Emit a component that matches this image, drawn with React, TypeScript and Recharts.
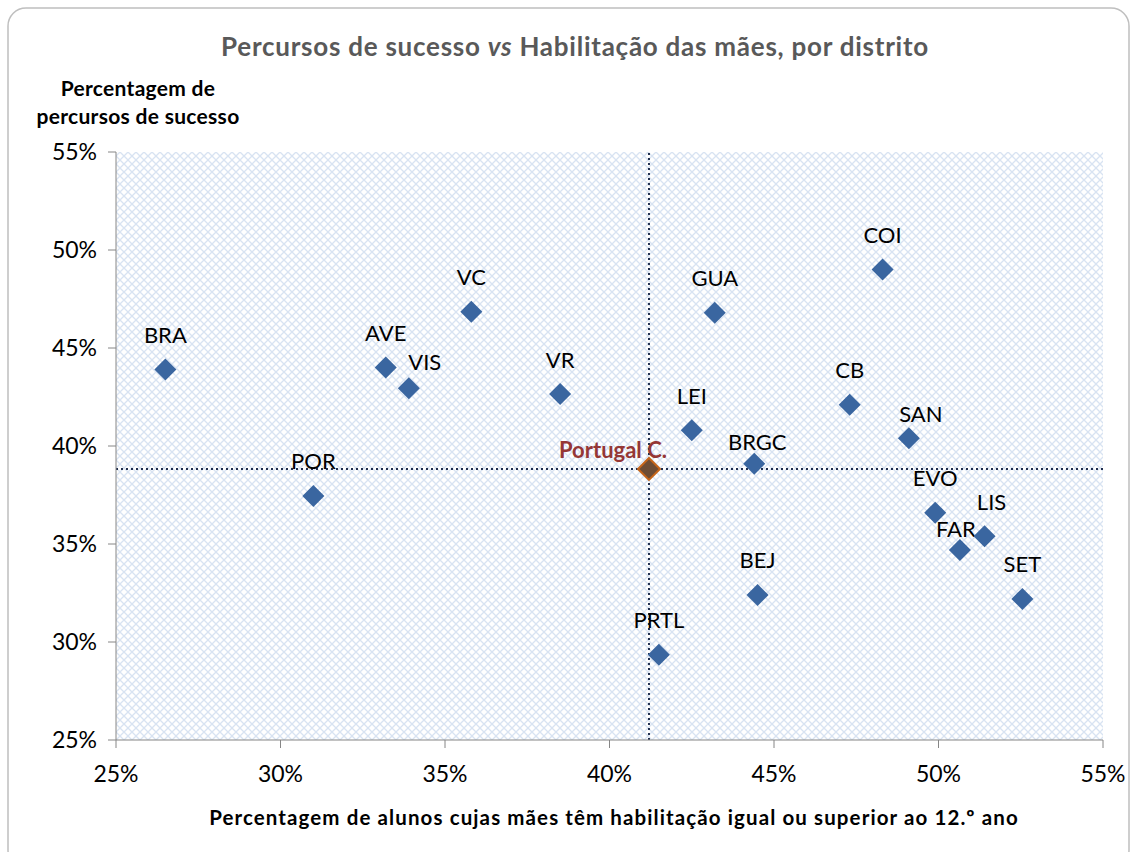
import React from "react";
import {
  ScatterChart,
  Scatter,
  XAxis,
  YAxis,
  CartesianGrid,
  ReferenceLine,
} from "recharts";

const districts = ["BRA", "POR", "AVE", "VIS", "VC", "VR", "PRTL", "LEI", "GUA", "BRGC", "BEJ", "CB", "COI", "SAN", "EVO", "FAR", "LIS", "SET"];
const mothersEducation = [26.5, 31.0, 33.2, 33.9, 35.8, 38.5, 41.5, 42.5, 43.2, 44.4, 44.5, 47.3, 48.3, 49.1, 49.9, 50.65, 51.4, 52.55];
const successRate = [43.9, 37.45, 44.0, 42.95, 46.85, 42.65, 29.35, 40.8, 46.8, 39.1, 32.4, 42.1, 49.0, 40.4, 36.6, 34.7, 35.4, 32.2];

const nationalLabel = ["Portugal C."];
const nationalX = [41.2];
const nationalY = [38.83];

const axisTicks = [25, 30, 35, 40, 45, 50, 55];

// label placement (offset from marker centre), default is above
const labelPlacement: Record<string, [number, number]> = {
  VIS: [16, -27],
  BRGC: [3, -22],
  SAN: [12, -25],
  LIS: [7, -35],
  FAR: [-4, -21],
  "Portugal C.": [-36, -19],
};

const districtData = districts.map((name, i) => ({ name, x: mothersEducation[i], y: successRate[i] }));
const nationalData = nationalLabel.map((name, i) => ({ name, x: nationalX[i], y: nationalY[i] }));

const FONT = "Lato, 'Open Sans', sans-serif";

const DiamondShape = (props: any) => {
  const { cx, cy, payload, fill, stroke, labelColor, bold } = props;
  if (cx == null || cy == null) return null;
  const r = 11;
  const off = labelPlacement[payload.name] || [0, -35];
  return (
    <g>
      <path
        d={`M${cx},${cy - r} L${cx + r},${cy} L${cx},${cy + r} L${cx - r},${cy} Z`}
        fill={fill}
        stroke={stroke}
        strokeWidth={stroke ? 2 : 0}
      />
      <text
        x={cx + off[0]}
        y={cy + off[1]}
        textAnchor="middle"
        dominantBaseline="central"
        fontFamily={FONT}
        fontSize={22}
        fontWeight={bold ? 700 : 400}
        fill={labelColor}
      >
        {payload.name}
      </text>
    </g>
  );
};

export default function App() {
  return (
    <div style={{ position: "absolute", left: 0, top: 0, width: 1134, height: 852, background: "#fff", fontFamily: FONT }}>
      <svg width={1134} height={852} style={{ position: "absolute", left: 0, top: 0 }}>
        <rect x={8} y={8} width={1121} height={860} rx={18} ry={18} fill="#fff" stroke="#bfbfbf" strokeWidth={1.5} />
        <text x={575} y={46} textAnchor="middle" dominantBaseline="central" fontFamily={FONT} fontSize={26} fontWeight={700} fill="#595959" letterSpacing={0.75}>
          Percursos de sucesso <tspan fontStyle="italic">vs</tspan> Habilitação das mães, por distrito
        </text>
        <text x={138} y={87} textAnchor="middle" dominantBaseline="central" fontFamily={FONT} fontSize={21} fontWeight={700} fill="#000" letterSpacing={0.3}>
          Percentagem de
        </text>
        <text x={138} y={115} textAnchor="middle" dominantBaseline="central" fontFamily={FONT} fontSize={21} fontWeight={700} fill="#000" letterSpacing={0.3}>
          percursos de sucesso
        </text>
        <text x={614} y={817} textAnchor="middle" dominantBaseline="central" fontFamily={FONT} fontSize={20.5} fontWeight={700} fill="#000" letterSpacing={1.1}>
          Percentagem de alunos cujas mães têm habilitação igual ou superior ao 12.º ano
        </text>
      </svg>
      <div style={{ position: "absolute", left: 0, top: 0 }}>
        <ScatterChart width={1134} height={852} margin={{ top: 152, right: 31, bottom: 72, left: 56 }}>
          <defs>
            <pattern id="hatch" width={8} height={8} patternUnits="userSpaceOnUse">
              <rect width={8} height={8} fill="#ffffff" />
              <path d="M0,0 L8,8 M8,0 L0,8" stroke="#d8e3f2" strokeWidth={1.3} />
            </pattern>
          </defs>
          <CartesianGrid horizontal={false} vertical={false} fill="url(#hatch)" stroke="none" />
          <XAxis
            type="number"
            dataKey="x"
            domain={[25, 55]}
            ticks={axisTicks}
            tickFormatter={(v: number) => `${v}%`}
            height={40}
            stroke="#868686"
            tickSize={8}
            tickMargin={18}
            tick={{ fill: "#000", fontSize: 23, fontFamily: FONT }}
            allowDataOverflow
          />
          <YAxis
            type="number"
            dataKey="y"
            domain={[25, 55]}
            ticks={axisTicks}
            tickFormatter={(v: number) => `${v}%`}
            width={60}
            stroke="#868686"
            tickSize={8}
            tickMargin={11}
            tick={{ fill: "#000", fontSize: 23, fontFamily: FONT }}
            allowDataOverflow
          />
          <ReferenceLine x={nationalX[0]} stroke="#1f2d4d" strokeWidth={2} strokeDasharray="2 3" />
          <ReferenceLine y={nationalY[0]} stroke="#1f2d4d" strokeWidth={2} strokeDasharray="2 3" />
          <Scatter
            data={districtData}
            isAnimationActive={false}
            shape={(p: any) => <DiamondShape {...p} fill="#3a66a0" labelColor="#000" />}
          />
          <Scatter
            data={nationalData}
            isAnimationActive={false}
            shape={(p: any) => <DiamondShape {...p} fill="#6e4d35" stroke="#c5651a" labelColor="#953735" bold />}
          />
        </ScatterChart>
      </div>
    </div>
  );
}
